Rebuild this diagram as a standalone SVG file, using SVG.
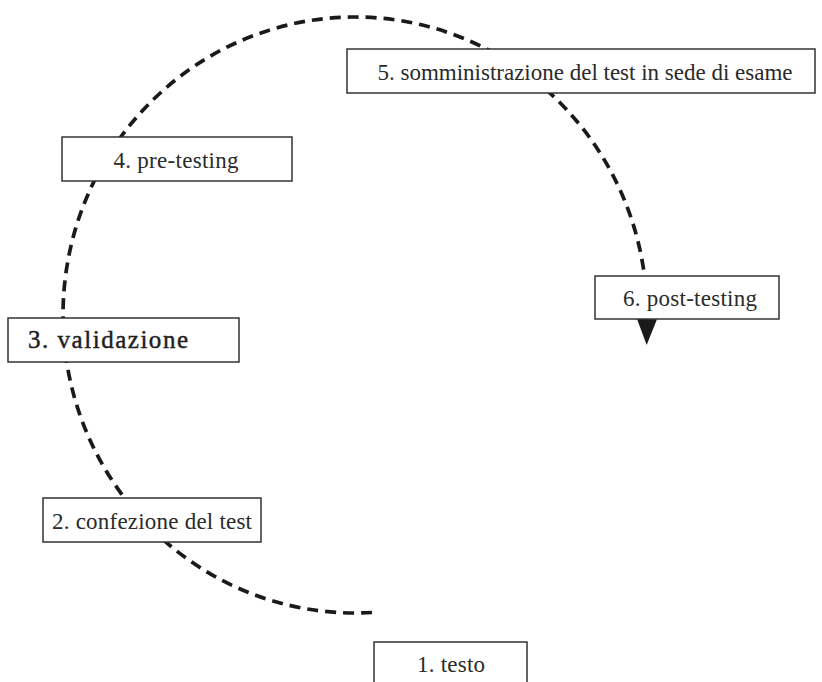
<svg xmlns="http://www.w3.org/2000/svg" width="822" height="682" viewBox="0 0 822 682">
  <style>
    .box { fill: #ffffff; stroke: #333333; stroke-width: 1.5; }
    .lbl { font-family: "Liberation Serif", "DejaVu Serif", serif; font-size: 23px; fill: #2a2a2a; text-anchor: middle; }
    .strong { font-size: 25px; fill: #1e1e1e; stroke: #1e1e1e; stroke-width: 0.45; }
    .flow { fill: none; stroke: #1a1a1a; stroke-width: 3.7; stroke-dasharray: 11 7; }
  </style>
  <defs>
    <marker id="arrow" markerUnits="userSpaceOnUse" markerWidth="28" markerHeight="24" viewBox="0 -12 28 24" refX="0" refY="0" orient="auto">
      <path d="M0,-10 L26,0 L0,10 Z" fill="#1a1a1a"/>
    </marker>
  </defs>
  <rect width="822" height="682" fill="#ffffff"/>
  <g id="connectors">
    <path class="flow" d="M 372 612.5 A 292 298 0 1 1 647 319" marker-end="url(#arrow)"/>
  </g>
  <g id="node1">
    <rect class="box" x="374" y="642" width="153" height="50"/>
    <text class="lbl" x="451" y="672" textLength="68">1. testo</text>
  </g>
  <g id="node2">
    <rect class="box" x="43" y="498" width="218" height="44"/>
    <text class="lbl" x="152" y="529" textLength="200">2. confezione del test</text>
  </g>
  <g id="node3">
    <rect class="box" x="8" y="318" width="231" height="44"/>
    <text class="lbl strong" x="108" y="348" textLength="160">3. validazione</text>
  </g>
  <g id="node4">
    <rect class="box" x="62" y="137" width="230" height="44"/>
    <text class="lbl" x="176" y="168" textLength="125">4. pre-testing</text>
  </g>
  <g id="node5">
    <rect class="box" x="347" y="49" width="468" height="44"/>
    <text class="lbl" x="585" y="80" textLength="415">5. somministrazione del test in sede di esame</text>
  </g>
  <g id="node6">
    <rect class="box" x="595" y="276" width="184" height="43"/>
    <text class="lbl" x="690" y="306" textLength="134">6. post-testing</text>
  </g>
</svg>
